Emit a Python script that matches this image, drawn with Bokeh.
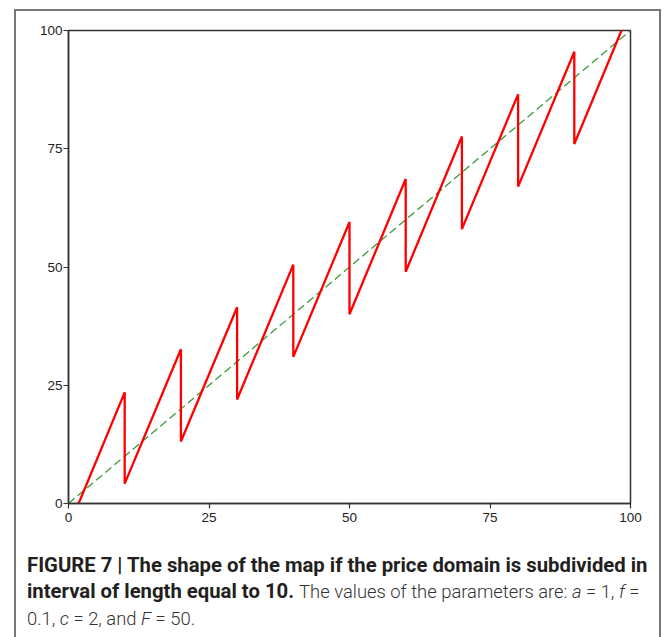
from bokeh.plotting import figure
from bokeh.models import Range1d, FixedTicker, Div
from bokeh.layouts import column
from bokeh.embed import file_html
from bokeh.resources import INLINE

# sawtooth map (red)
map_x = [1.8, 10, 10, 20, 20, 30, 30, 40, 40, 50, 50, 60, 60, 70, 70, 80, 80, 90, 90, 98.4]
map_y = [0, 23.5, 4.2, 32.6, 13.1, 41.5, 22.0, 50.5, 31.0, 59.5, 40.0, 68.6, 49.0, 77.6, 58.0, 86.5, 67.0, 95.5, 76.0, 100]
# identity line (green dashed)
diag_x = [0, 100]
diag_y = [0, 100]
ticks = [0, 25, 50, 75, 100]

p = figure(width=643, height=522, output_backend="svg", toolbar_location=None,
           x_range=Range1d(0, 100), y_range=Range1d(0, 100),
           min_border_left=52, min_border_right=29, min_border_top=19, min_border_bottom=30)
p.background_fill_color = "white"
p.border_fill_color = "white"
p.grid.visible = False
p.outline_line_color = "#333333"
p.outline_line_width = 1.5

for ax in (p.xaxis[0], p.yaxis[0]):
    ax.ticker = FixedTicker(ticks=ticks)
    ax.minor_tick_line_color = None
    ax.major_tick_in = 0
    ax.major_tick_out = 5
    ax.axis_line_color = "#333333"
    ax.axis_line_width = 1.5
    ax.major_tick_line_color = "#333333"
    ax.major_tick_line_width = 1.2
    ax.major_label_text_font = "Liberation Sans"
    ax.major_label_text_font_size = "13.5px"
    ax.major_label_text_color = "#222222"
p.yaxis.major_label_standoff = 1
p.xaxis.major_label_standoff = 4

p.line(diag_x, diag_y, line_color="#3c9a3c", line_width=1.3, line_dash="8 4")
p.line(map_x, map_y, line_color="#ff0000", line_width=2.3)

caption = Div(
    text=('<div style="font-family:Roboto, \'Liberation Sans\', sans-serif; font-size:20.3px; '
          'line-height:26px; color:#231f20; white-space:nowrap; padding-left:6px; padding-top:14px;">'
          '<b>FIGURE 7 | The shape of the map if the price domain is subdivided in<br>'
          'interval of length equal to 10.</b> <span style="font-weight:300; color:#333; font-size:18.4px;">'
          'The values of the parameters are: <i>a</i> = 1, <i>f</i> =<br>'
          '0.1, <i>c</i> = 2, and <i>F</i> = 50.</span></div>'),
    width=643, height=95, styles={"overflow": "hidden"})

layout = column(p, caption, margin=(9, 0, 0, 14), width=647,
                styles={"border-left": "2px solid #777", "border-top": "2px solid #777",
                        "border-right": "2px solid #777", "box-sizing": "border-box",
                        "width": "647px"})

open("out.html", "w").write(file_html(layout, INLINE))
